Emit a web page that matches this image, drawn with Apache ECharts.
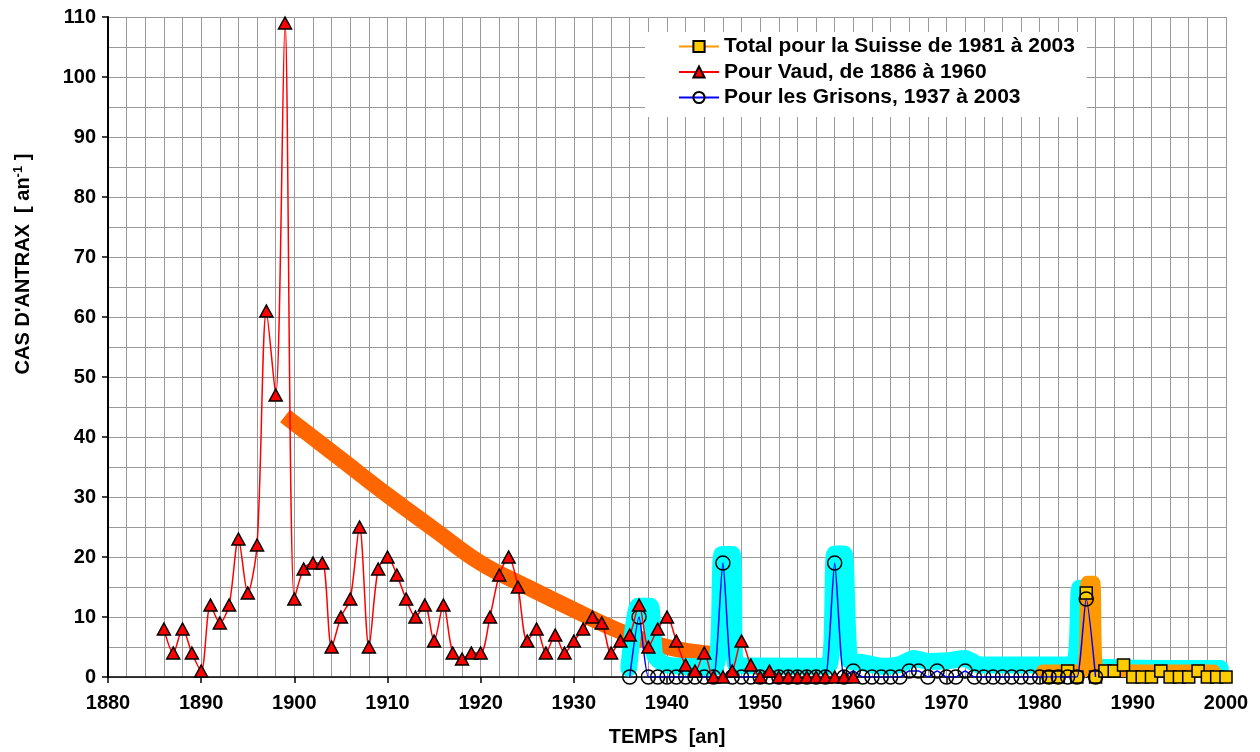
<!DOCTYPE html>
<html><head><meta charset="utf-8">
<script src="https://cdn.jsdelivr.net/npm/echarts@6/dist/echarts.min.js"></script>
<style>html,body{margin:0;padding:0;background:#fff}#c{width:1260px;height:752px}</style>
</head><body><div id="c"></div>
<script>
// ---- data ----
const vaudStart = 1886;
const vaudValues = [8,4,8,4,1,12,9,12,23,14,22,61,47,109,13,18,19,19,5,10,13,25,5,18,20,17,13,10,12,6,12,4,3,4,4,10,17,20,15,6,8,4,7,4,6,8,10,9,4,6,7,12,5,8,10,6,2,1,4,0,0,1,6,2,0,1,0,0,0,0,0,0,0,0,0];
const grisonsStart = 1936;
const grisonsValues = [0,10,0,0,0,0,0,0,0,0,19,0,0,0,0,0,0,0,0,0,0,0,19,0,1,0,0,0,0,0,1,1,0,1,0,0,1,0,0,0,0,0,0,0,0,0,0,0,0,13,0];
const suisseStart = 1981;
const suisseValues = [0,0,1,0,14,0,1,1,2,0,0,0,1,0,0,0,1,0,0,0];
const suisseTailYears = [2001,2002,2003];
const suisseTailValues = [0,0,0];
// highlight strokes drawn on the original figure
const trendBand = [[1899,43.5],[1905,36.3],[1910,30.3],[1915,24.6],[1920,19],[1925,15],[1930,11.2],[1935,7.6],[1940,5],[1945,3.8]];
const grisonsBand = [[1935.9,1.5],[1936.9,11.8],[1938.2,11.8],[1938.7,3.5],[1940,2],[1945.1,1.6],[1945.9,20.4],[1947,20.4],[1947.4,2],[1957.3,1.8],[1958,20.5],[1959,20.5],[1959.6,2.8],[1961,2.4],[1963,1.8],[1965,2.1],[1966.5,3.1],[1968,2.6],[1970,2.7],[1972,3.1],[1973.5,2],[1983.6,2],[1984.3,14.8],[1985,14.8],[1985.6,1.8],[1999.4,1.4]];
const suisseBand = [[1980.3,1],[1984.7,1],[1985.1,15.8],[1985.8,15.8],[1986.2,1.2],[1998.7,1]];
const xTickLabels = [1880,1890,1900,1910,1920,1930,1940,1950,1960,1970,1980,1990,2000];
const yTickLabels = [0,10,20,30,40,50,60,70,80,90,100,110];
const names = ['Total pour la Suisse de 1981 à 2003','Pour Vaud, de 1886 à 1960','Pour les Grisons, 1937 à 2003'];

const toPairs = (start, vals) => vals.map((v, i) => [start + i, v]);
const suisseData = toPairs(suisseStart, suisseValues).concat(
  suisseTailYears.map((y, i) => ({value: [y, suisseTailValues[i]], symbol: 'none'})));

const FONT = "'Liberation Sans', Arial, sans-serif";
const grid = {left: 108, right: 34, top: 17, bottom: 74};
const gridLine = {show: true, lineStyle: {color: '#9a9a9a', width: 1}};

const chart = echarts.init(document.getElementById('c'), null, {renderer: 'canvas'});
chart.setOption({
  animation: false,
  backgroundColor: '#fff',
  grid: grid,
  legend: {
    data: names, orient: 'vertical', left: 645, top: 32,
    padding: [4, 12, 9, 33], itemGap: 4.5, itemWidth: 40, itemHeight: 14,
    backgroundColor: '#fff', borderWidth: 0,
    textStyle: {fontSize: 21, fontWeight: 'bold', color: '#000', fontFamily: FONT, lineHeight: 21}
  },
  xAxis: {
    type: 'value', min: xTickLabels[0], max: xTickLabels[xTickLabels.length - 1], interval: 10,
    axisLine: {show: true, onZero: false, lineStyle: {color: '#000', width: 1.5}},
    axisTick: {show: true, length: 6, lineStyle: {color: '#000', width: 1.5}},
    axisLabel: {fontSize: 20, fontWeight: 'bold', color: '#000', fontFamily: FONT, margin: 16,
      formatter: v => xTickLabels.includes(v) ? String(v) : ''},
    splitLine: gridLine,
    minorTick: {show: false, splitNumber: 5},
    minorSplitLine: gridLine,
    name: 'TEMPS  [an]', nameLocation: 'middle', nameGap: 50,
    nameTextStyle: {fontSize: 20, fontWeight: 'bold', color: '#000', fontFamily: FONT}
  },
  yAxis: {
    type: 'value', min: yTickLabels[0], max: yTickLabels[yTickLabels.length - 1], interval: 10,
    axisLine: {show: true, lineStyle: {color: '#000', width: 2}},
    axisTick: {show: true, length: 6, lineStyle: {color: '#000', width: 1.5}},
    axisLabel: {fontSize: 20, fontWeight: 'bold', color: '#000', fontFamily: FONT, margin: 12,
      formatter: v => yTickLabels.includes(v) ? String(v) : ''},
    splitLine: gridLine,
    minorTick: {show: false, splitNumber: 2},
    minorSplitLine: gridLine,
    name: "{a|CAS D'ANTRAX  [ an}{s|-1}{a| ]}", nameLocation: 'middle', nameGap: 74, nameRotate: 90,
    nameTextStyle: {
      color: '#000',
      padding: [0, 0, 0, 166],
      rich: {
        a: {fontSize: 20, fontWeight: 'bold', color: '#000', fontFamily: FONT, lineHeight: 22},
        s: {fontSize: 13, fontWeight: 'bold', color: '#000', fontFamily: FONT, lineHeight: 13, verticalAlign: 'top'}
      }
    }
  },
  series: [
    {type: 'line', name: '_trend', data: trendBand, symbol: 'none', smooth: 0.4, silent: true, z: 1,
      lineStyle: {color: '#FF6600', width: 16, cap: 'butt', join: 'round'}},
    {type: 'line', name: '_grisonsBand', data: grisonsBand, symbol: 'none', smooth: 0.2, silent: true, z: 1,
      lineStyle: {color: '#00FFFF', width: 17, cap: 'round', join: 'round'}},
    {type: 'line', name: '_suisseBand', data: suisseBand, symbol: 'none', smooth: 0.2, silent: true, z: 1,
      lineStyle: {color: '#FF9900', width: 13, cap: 'round', join: 'round'}},
    {type: 'line', name: names[0], data: suisseData, clip: false, z: 3,
      symbol: 'rect', symbolSize: 12, showAllSymbol: true,
      lineStyle: {color: '#FF9900', width: 1.5},
      itemStyle: {color: '#FFCC00', borderColor: '#000', borderWidth: 1.5}},
    {type: 'line', name: names[2], data: toPairs(grisonsStart, grisonsValues), z: 4,
      symbol: 'circle', symbolSize: 14, showAllSymbol: true, smooth: 0.2,
      lineStyle: {color: '#0000FF', width: 1.5},
      itemStyle: {color: 'rgba(255,255,255,0)', borderColor: '#000', borderWidth: 1.5}},
    {type: 'line', name: names[1], data: toPairs(vaudStart, vaudValues), z: 5,
      symbol: 'triangle', symbolSize: [13, 12], showAllSymbol: true, smooth: 0.3,
      lineStyle: {color: '#FF0000', width: 1.5},
      itemStyle: {color: '#FF0000', borderColor: '#000', borderWidth: 1.5}}
  ]
});
</script>
</body></html>
